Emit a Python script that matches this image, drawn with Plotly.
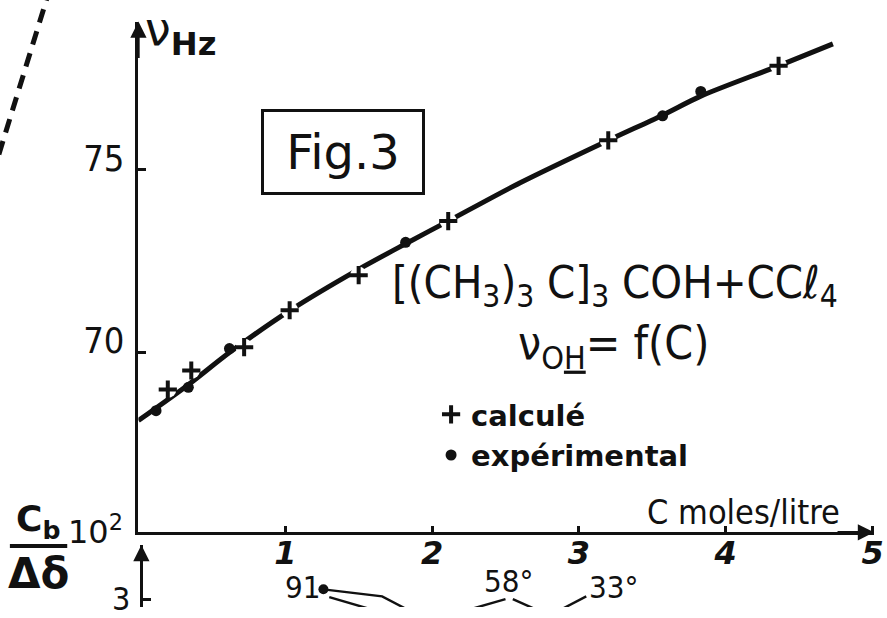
import plotly.graph_objects as go

W, H = 887, 618

# nu_OH (Hz) of [(CH3)3C]3COH in CCl4 as a function of concentration C (moles/litre)
conc_curve = [0.00, 0.34, 0.62, 1.03, 1.50, 1.82, 2.11, 2.60, 3.20, 3.57, 3.83, 4.36, 4.73]
nu_curve = [68.14, 69.12, 70.00, 71.15, 72.28, 72.98, 73.60, 74.65, 75.81, 76.50, 77.02, 77.85, 78.45]

conc_calc = [0.20, 0.36, 0.72, 1.03, 1.50, 2.11, 3.20, 4.36]
nu_calc = [68.99, 69.51, 70.15, 71.16, 72.12, 73.60, 75.81, 77.85]

conc_exp = [0.12, 0.34, 0.62, 1.82, 3.57, 3.83]
nu_exp = [68.41, 69.05, 70.11, 73.02, 76.48, 77.15]

x_ticks = [1, 2, 3, 4, 5]
y_ticks = [70, 75]

# neighbouring dashed curve entering from the upper left
side_c = [-0.60, -0.96]
side_nu = [80.0, 75.3]

# top edge of the Cb/Δδ·10² panel underneath
low_ticks = [3]
curve91_a_c = [1.26, 1.66, 1.89]
curve91_a_v = [3.25, 3.07, 2.62]
curve91_b_c = [1.30, 1.65]
curve91_b_v = [3.05, 2.67]
curve58_a_c = [2.50, 2.22]
curve58_a_v = [3.00, 2.70]
curve58_b_c = [2.55, 2.73]
curve58_b_v = [3.00, 2.70]
curve33_c = [3.05, 2.86]
curve33_v = [3.07, 2.70]
dot91_c = [1.26]
dot91_v = [3.25]

INK = "#111111"
FONT = "DejaVu Sans"
NARROW = "DejaVu Sans Condensed, DejaVu Sans"


def fx(px):
    return px / W


def fy(py):
    return 1 - py / H


fig = go.Figure()

fig.add_trace(go.Scatter(
    x=side_c, y=side_nu, xaxis="x2", yaxis="y2", mode="lines",
    line=dict(color=INK, width=5, dash="14px,9px"),
    showlegend=False, hoverinfo="skip"))

fig.add_trace(go.Scatter(
    x=conc_curve, y=nu_curve, mode="lines",
    line=dict(color=INK, width=5, shape="spline", smoothing=0.8),
    showlegend=False, hoverinfo="skip"))

# white halo breaks the curve around each computed point
fig.add_trace(go.Scatter(
    x=conc_calc, y=nu_calc, mode="markers",
    marker=dict(symbol="circle", size=17, color="white"),
    showlegend=False, hoverinfo="skip"))

fig.add_trace(go.Scatter(
    x=conc_exp, y=nu_exp, mode="markers", name="expérimental", legendrank=2,
    marker=dict(symbol="circle", size=11, color=INK)))

fig.add_trace(go.Scatter(
    x=conc_calc, y=nu_calc, mode="markers", name="calculé", legendrank=1,
    marker=dict(symbol="cross-thin", size=13, color=INK, line=dict(width=4, color=INK))))

for cx, cv in [(curve91_a_c, curve91_a_v), (curve91_b_c, curve91_b_v),
               (curve58_a_c, curve58_a_v), (curve58_b_c, curve58_b_v),
               (curve33_c, curve33_v)]:
    fig.add_trace(go.Scatter(
        x=cx, y=cv, xaxis="x", yaxis="y3", mode="lines",
        line=dict(color=INK, width=2.4), showlegend=False, hoverinfo="skip"))

fig.add_trace(go.Scatter(
    x=dot91_c, y=dot91_v, xaxis="x", yaxis="y3", mode="markers",
    marker=dict(size=10, color=INK, line=dict(width=0)), showlegend=False, hoverinfo="skip"))

axis_common = dict(showline=True, linecolor=INK, linewidth=2.5, showgrid=False,
                   zeroline=False, tickcolor=INK, tickwidth=2.5, ticklabeloverflow="allow")

annotations = [
    # axis arrows
    dict(x=0, y=79.06, xref="x", yref="y", ax=0, ay=38, text="", showarrow=True,
         arrowhead=2, arrowsize=1.3, arrowwidth=2.5, arrowcolor=INK),
    dict(x=(884 - 140) / 148.5, y=65.08, xref="x", yref="y", ax=-38, ay=0, text="",
         showarrow=True, arrowhead=2, arrowsize=1.3, arrowwidth=2.5, arrowcolor=INK),
    dict(x=fx(143), y=fy(555), xref="paper", yref="paper", ax=0, ay=45, text="",
         showarrow=True, arrowhead=2, arrowsize=1.3, arrowwidth=2.5, arrowcolor=INK),
    # axis titles
    dict(x=fx(145), y=1, xref="paper", yref="paper", xanchor="left", yanchor="top",
         text="ν<sub><b>Hz</b></sub>", showarrow=False, font=dict(size=46, family=FONT, color=INK)),
    dict(x=fx(752), y=fy(521), xref="paper", yref="paper", xanchor="center", yanchor="middle",
         text="C moles/litre", showarrow=False, font=dict(size=34, family=NARROW, color=INK)),
    # figure label
    dict(x=fx(347), y=fy(155), xref="paper", yref="paper", xanchor="center", yanchor="middle",
         text="Fig.3", showarrow=False, width=158, height=80, borderpad=0,
         bordercolor=INK, borderwidth=3, font=dict(size=48, family=FONT, color=INK)),
    # system description
    dict(x=fx(622), y=fy(290), xref="paper", yref="paper", xanchor="center", yanchor="middle",
         text="[(CH<sub>3</sub>)<sub>3</sub> C]<sub>3</sub> COH+CCℓ<sub>4</sub>", showarrow=False,
         font=dict(size=45, family=NARROW, color=INK)),
    dict(x=fx(620), y=fy(353), xref="paper", yref="paper", xanchor="center", yanchor="middle",
         text="ν<sub>O<u>H</u></sub>= f(C)", showarrow=False,
         font=dict(size=46, family=NARROW, color=INK)),
    # lower panel labels
    dict(x=fx(38), y=fy(531), xref="paper", yref="paper", xanchor="center", yanchor="middle",
         text="C<sub>b</sub>", showarrow=False, font=dict(size=36, family=FONT, color=INK, weight="bold")),
    dict(x=fx(39), y=fy(584), xref="paper", yref="paper", xanchor="center", yanchor="middle",
         text="Δδ", showarrow=False, font=dict(size=42, family=FONT, color=INK, weight="bold")),
    dict(x=fx(97), y=fy(540), xref="paper", yref="paper", xanchor="center", yanchor="middle",
         text="10<sup>2</sup>", showarrow=False, font=dict(size=32, family=FONT, color=INK)),
    dict(x=fx(306), y=fy(618), xref="paper", yref="paper", xanchor="center", yanchor="bottom",
         text="91", showarrow=False, font=dict(size=31, family=NARROW, color=INK)),
    dict(x=fx(514), y=fy(612), xref="paper", yref="paper", xanchor="center", yanchor="bottom",
         text="58°", showarrow=False, font=dict(size=31, family=NARROW, color=INK)),
    dict(x=fx(621), y=fy(618), xref="paper", yref="paper", xanchor="center", yanchor="bottom",
         text="33°", showarrow=False, font=dict(size=31, family=NARROW, color=INK)),
]

fig.update_layout(
    width=W, height=H,
    margin=dict(l=0, r=0, t=0, b=0),
    paper_bgcolor="white", plot_bgcolor="rgba(0,0,0,0)",
    font=dict(family=FONT, color=INK),
    xaxis=dict(domain=[fx(140), fx(884)], range=[0, (884 - 140) / 148.5], anchor="y",
               tickvals=x_ticks, ticks="inside", ticklen=7, ticklabelstandoff=-10,
               tickfont=dict(size=32, family=FONT, style="italic", weight="bold", color=INK),
               **axis_common),
    yaxis=dict(domain=[fy(542), fy(22)], range=[65.08, 79.06], anchor="x",
               tickvals=y_ticks, ticks="inside", ticklen=8, ticklabelshift=-12,
               ticklabelstandoff=4,
               tickfont=dict(size=36, family=NARROW, color=INK), **axis_common),
    xaxis2=dict(domain=[0, 1], range=[-140 / 148.5, (887 - 140) / 148.5], anchor="y2", visible=False),
    yaxis2=dict(domain=[0, 1], range=[70 - (618 - 359) / 37.2, 70 + 359 / 37.2], anchor="x2", visible=False),
    yaxis3=dict(domain=[0, fy(555)], range=[2.8, 4.375], anchor="free", position=fx(143),
                tickvals=low_ticks, ticks="inside", ticklen=8, ticklabelstandoff=4,
                tickfont=dict(size=32, family=NARROW, color=INK), **axis_common),
    legend=dict(x=fx(436), y=fy(396), xanchor="left", yanchor="top",
                font=dict(size=29, family=FONT, color=INK, weight="bold"),
                bgcolor="rgba(0,0,0,0)", itemsizing="trace", tracegroupgap=0),
    annotations=annotations,
    shapes=[dict(type="line", xref="paper", yref="paper", x0=fx(10), x1=fx(68),
                 y0=fy(556), y1=fy(556), line=dict(color=INK, width=4))],
)

fig.write_html("out.html")
